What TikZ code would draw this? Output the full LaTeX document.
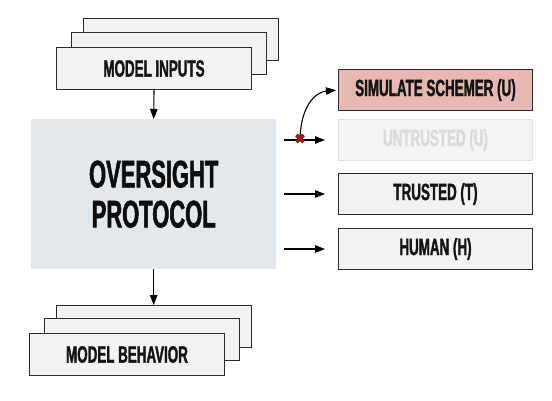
\documentclass[tikz,border=0pt]{standalone}
\usepackage{fontspec}
\newfontfamily\bebas[FakeStretch=0.57,FakeBold=1.4]{Liberation Sans}
\usetikzlibrary{arrows.meta,calc}
\definecolor{mainfill}{HTML}{E3E8ED}
\definecolor{boxfill}{HTML}{F2F2F2}
\definecolor{boxline}{HTML}{2A2A2A}
\definecolor{schemfill}{HTML}{E6B8B1}
\definecolor{ghostfill}{HTML}{F4F4F4}
\definecolor{ghostline}{HTML}{E2E2E2}
\definecolor{ghosttext}{HTML}{DADADA}
\definecolor{xred}{HTML}{B01818}
\begin{document}
\begin{tikzpicture}[x=1pt,y=-1pt,
  lbl/.style={font=\bebas\bfseries\fontsize{23.5}{24}\selectfont, text=black!92},
  stackbox/.style={draw=boxline, line width=1pt, fill=boxfill, inner sep=0pt,
    minimum width=195pt, minimum height=42pt, anchor=north west, lbl},
  rbox/.style={draw=boxline, line width=1pt, fill=boxfill, inner sep=0pt,
    minimum width=194pt, minimum height=41pt, anchor=north west, lbl},
  arr/.style={line width=1.1pt, -{Triangle[length=10pt,width=7.5pt]}}]
\useasboundingbox (0,0) rectangle (552,400);
% model inputs stack
\node[stackbox] (inB) at (83,18) {};
\node[stackbox] (inM) at (71,32) {};
\node[stackbox] (inF) at (56,47) {MODEL INPUTS};
% oversight protocol
\node[fill=mainfill, inner sep=0pt, minimum width=245pt, minimum height=150pt,
  anchor=north west, align=center,
  font=\bebas\bfseries\fontsize{38.5}{40}\selectfont, text=black!95] (main) at (31,119)
  {OVERSIGHT\\PROTOCOL};
% model behavior stack
\node[stackbox] (outB) at (56,305) {};
\node[stackbox] (outM) at (44,318) {};
\node[stackbox] (outF) at (29,333) {MODEL BEHAVIOR};
% right boxes
\node[rbox, fill=schemfill] (sim) at (338,69) {SIMULATE SCHEMER (U)};
\node[rbox, draw=ghostline, fill=ghostfill, text=ghosttext] (untr) at (338,119) {UNTRUSTED (U)};
\node[rbox] (trus) at (338,173) {TRUSTED (T)};
\node[rbox] (hum) at (338,228) {HUMAN (H)};
% vertical arrows
\draw[arr] (inF.south) -- (main.north);
\draw[arr] (main.south) -- (main.south |- outB.north);
% horizontal arrows
\draw[arr, shorten <=8pt, shorten >=13pt] (main.east |- untr.west) -- (untr.west);
\draw[arr, shorten <=8pt, shorten >=13pt] (main.east |- trus.west) -- (trus.west);
\draw[arr, shorten <=8pt, shorten >=13pt] (main.east |- hum.west) -- (hum.west);
% redirect
\coordinate (xm) at (300,138.5);
\draw[arr, shorten >=2pt] (xm) .. controls (301,105) and (316,92) .. (sim.west);
\draw[black!80, line width=3.6pt] ($(xm)+(-3.6,-3.6)$) -- ($(xm)+(3.6,3.6)$)
  ($(xm)+(-3.6,3.6)$) -- ($(xm)+(3.6,-3.6)$);
\draw[xred, line width=2.4pt] ($(xm)+(-3.2,-3.2)$) -- ($(xm)+(3.2,3.2)$)
  ($(xm)+(-3.2,3.2)$) -- ($(xm)+(3.2,-3.2)$);
\end{tikzpicture}
\end{document}
